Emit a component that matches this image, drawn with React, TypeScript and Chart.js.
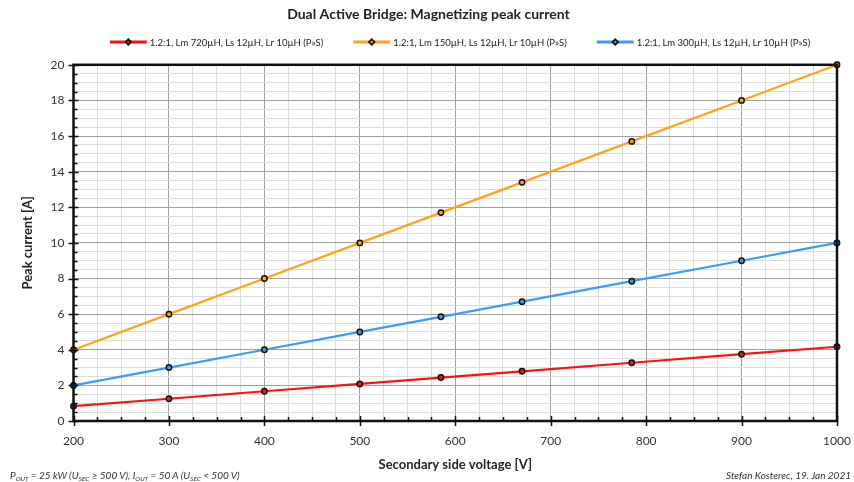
import React, { useEffect, useRef } from "react";
import { Chart, registerables } from "chart.js";

Chart.register(...registerables);

const voltages = [200, 300, 400, 500, 585, 670, 785, 900, 1000];
const redSeries = [0.83, 1.25, 1.67, 2.08, 2.44, 2.79, 3.27, 3.75, 4.17];
const orangeSeries = [4.0, 6.0, 8.0, 10.0, 11.7, 13.4, 15.7, 18.0, 20.0];
const blueSeries = [2.0, 3.0, 4.0, 5.0, 5.85, 6.7, 7.85, 9.0, 10.0];
const seriesLabels = [
  "1.2:1, Lm 720µH, Ls 12µH, Lr 10µH (P»S)",
  "1.2:1, Lm 150µH, Ls 12µH, Lr 10µH (P»S)",
  "1.2:1, Lm 300µH, Ls 12µH, Lr 10µH (P»S)",
];
const seriesColors = ["#ff1010", "#ffa31a", "#3c9cf5"];

const FONT = "Lato, 'Open Sans', sans-serif";

const frameAndTicks = {
  id: "frameAndTicks",
  afterDraw(chart: any) {
    const { ctx, chartArea } = chart;
    const xs = chart.scales.x;
    const ys = chart.scales.y;
    ctx.save();
    ctx.strokeStyle = "#111";
    ctx.lineWidth = 1.5;
    ctx.beginPath();
    for (let v = 0; v <= 20.0001; v += 0.5) {
      const y = Math.round(ys.getPixelForValue(v)) + 0.5;
      const major = Math.abs(v % 2) < 1e-6;
      ctx.moveTo(chartArea.left - (major ? 5 : 0), y);
      ctx.lineTo(chartArea.left + (major ? 5 : 4), y);
    }
    for (let v = 200; v <= 1000; v += 25) {
      const x = Math.round(xs.getPixelForValue(v)) + 0.5;
      const major = v % 100 === 0;
      ctx.moveTo(x, chartArea.bottom + (major ? 5 : 0));
      ctx.lineTo(x, chartArea.bottom - (major ? 5 : 4));
    }
    ctx.stroke();
    ctx.lineWidth = 2.5;
    ctx.strokeRect(
      chartArea.left,
      chartArea.top,
      chartArea.right - chartArea.left,
      chartArea.bottom - chartArea.top
    );
    ctx.restore();
  },
};

// Legend drawn from the datasets' own labels and colours
const lineLegend = {
  id: "lineLegend",
  afterDraw(chart: any) {
    const { ctx } = chart;
    const sets = chart.data.datasets;
    const lineW = 37;
    const gapText = 3;
    const gapItem = 30;
    const cy = 42;
    ctx.save();
    ctx.font = `9.5px ${FONT}`;
    ctx.textBaseline = "middle";
    ctx.textAlign = "left";
    const widths = sets.map((d: any) => lineW + gapText + ctx.measureText(d.label).width);
    const total = widths.reduce((a: number, b: number) => a + b, 0) + gapItem * (sets.length - 1);
    let x = 460 - total / 2;
    sets.forEach((d: any, i: number) => {
      ctx.strokeStyle = d.borderColor;
      ctx.lineWidth = 3;
      ctx.beginPath();
      ctx.moveTo(x, cy);
      ctx.lineTo(x + lineW, cy);
      ctx.stroke();
      const mx = x + lineW / 2;
      ctx.fillStyle = "#111";
      ctx.beginPath();
      ctx.moveTo(mx, cy - 4);
      ctx.lineTo(mx + 4, cy);
      ctx.lineTo(mx, cy + 4);
      ctx.lineTo(mx - 4, cy);
      ctx.closePath();
      ctx.fill();
      ctx.fillStyle = d.borderColor;
      ctx.beginPath();
      ctx.arc(mx, cy, 1.3, 0, Math.PI * 2);
      ctx.fill();
      ctx.fillStyle = "#222";
      ctx.fillText(d.label, x + lineW + gapText, cy + 0.5);
      x += widths[i] + gapItem;
    });
    ctx.restore();
  },
};

export default function App() {
  const ref = useRef<HTMLCanvasElement>(null);

  useEffect(() => {
    const values = [redSeries, orangeSeries, blueSeries];
    const chart = new Chart(ref.current!, {
      type: "line",
      data: {
        datasets: values.map((vals, i) => ({
          label: seriesLabels[i],
          data: vals.map((y, j) => ({ x: voltages[j], y })),
          borderColor: seriesColors[i],
          backgroundColor: seriesColors[i],
          pointBackgroundColor: seriesColors[i],
          pointBorderColor: "#111",
          pointBorderWidth: 1.5,
          pointRadius: 2.7,
          borderWidth: 2.2,
          tension: 0,
          clip: false as any,
        })),
      },
      options: {
        animation: false,
        responsive: false,
        maintainAspectRatio: false,
        layout: { autoPadding: false, padding: { left: 20, right: 17, top: 2, bottom: 9 } },
        plugins: {
          title: {
            display: true,
            text: "Dual Active Bridge: Magnetizing peak current",
            color: "#222",
            font: { family: FONT, size: 14, weight: "bold" },
            padding: { top: 4, bottom: 42 },
          },
          legend: { display: false },
          tooltip: { enabled: false },
        },
        scales: {
          x: {
            type: "linear",
            min: 200,
            max: 1000,
            border: { display: false },
            afterFit: (s: any) => {
              s.paddingRight = 0;
              s.paddingLeft = 0;
            },
            grid: {
              drawTicks: false,
              color: (c: any) => (c.tick && c.tick.value % 100 === 0 ? "#a0a0a0" : "#dcdcdc"),
              lineWidth: 1,
            },
            ticks: {
              stepSize: 25,
              autoSkip: false,
              maxRotation: 0,
              padding: 13,
              color: "#333",
              font: { family: FONT, size: 12 },
              callback: (v: any) => (Number(v) % 100 === 0 ? String(v) : ""),
            },
            title: {
              display: true,
              text: "Secondary side voltage [V]",
              color: "#222",
              font: { family: FONT, size: 13, weight: "bold" },
              padding: { top: -4, bottom: 0 },
            },
          },
          y: {
            type: "linear",
            min: 0,
            max: 20,
            border: { display: false },
            grid: {
              drawTicks: false,
              color: (c: any) => (c.tick && Math.abs(c.tick.value % 2) < 1e-6 ? "#a0a0a0" : "#dcdcdc"),
              lineWidth: 1,
            },
            ticks: {
              stepSize: 0.5,
              autoSkip: false,
              padding: 9,
              color: "#333",
              font: { family: FONT, size: 12 },
              callback: (v: any) => (Math.abs(Number(v) % 2) < 1e-6 ? String(v) : ""),
            },
            title: {
              display: true,
              text: "Peak current [A]",
              color: "#222",
              font: { family: FONT, size: 13, weight: "bold" },
              padding: { top: 0, bottom: 6 },
            },
          },
        },
      },
      plugins: [frameAndTicks, lineLegend],
    } as any);
    return () => chart.destroy();
  }, []);

  const noteStyle: React.CSSProperties = {
    position: "absolute",
    top: 469,
    fontFamily: FONT,
    fontStyle: "italic",
    fontSize: 10,
    color: "#333",
    whiteSpace: "nowrap",
  };
  const sub: React.CSSProperties = { fontSize: 6.5, verticalAlign: "-2px" };

  return (
    <div style={{ position: "absolute", left: 0, top: 0, width: 854, height: 482, background: "#fff" }}>
      <canvas ref={ref} width={854} height={482} style={{ display: "block" }} />
      <div style={{ ...noteStyle, left: 10 }}>
        P<span style={sub}>OUT</span> = 25 kW (U<span style={sub}>SEC</span> ≥ 500 V), I
        <span style={sub}>OUT</span> = 50 A (U<span style={sub}>SEC</span> &lt; 500 V)
      </div>
      <div style={{ ...noteStyle, right: 3 }}>Stefan Kosterec, 19. Jan 2021</div>
    </div>
  );
}
